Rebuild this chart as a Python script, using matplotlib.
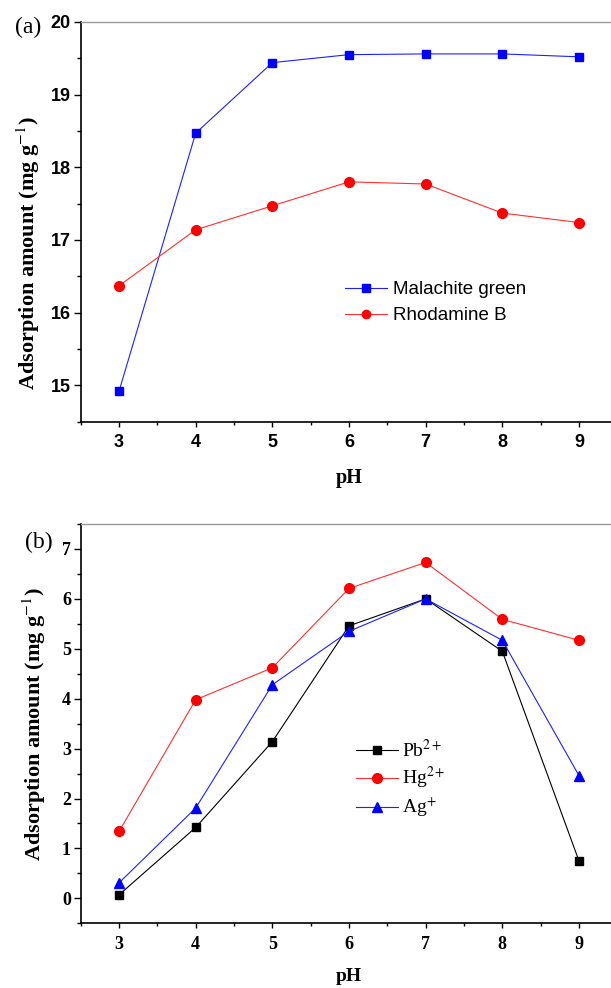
import matplotlib
matplotlib.use("Agg")
import matplotlib.pyplot as plt
from matplotlib.ticker import MultipleLocator

# data
ph = [3, 4, 5, 6, 7, 8, 9]
malachite_green = [14.92, 18.47, 19.44, 19.55, 19.56, 19.56, 19.52]
rhodamine_b = [16.37, 17.14, 17.47, 17.80, 17.77, 17.37, 17.24]
pb = [0.07, 1.42, 3.14, 5.46, 6.00, 4.95, 0.75]
hg = [1.34, 3.98, 4.62, 6.21, 6.73, 5.59, 5.17]
ag = [0.31, 1.81, 4.28, 5.35, 6.00, 5.17, 2.46]

plt.rcParams['mathtext.fontset'] = 'stix'
SERIF = 'Liberation Serif'
SANS = 'Liberation Sans'

fig = plt.figure(figsize=(6.11, 9.88), dpi=100)
# axes run past the right edge of the figure, as in the cropped original
ax1 = fig.add_axes([0.1321, 0.5732, 0.8782, 0.4046])
ax2 = fig.add_axes([0.1321, 0.0655, 0.8782, 0.4041])


def style_axes(ax, tick_family, tick_size, xpad):
    ax.set_xlim(2.5, 9.5)
    ax.xaxis.set_major_locator(MultipleLocator(1))
    ax.xaxis.set_minor_locator(MultipleLocator(0.5))
    ax.yaxis.set_major_locator(MultipleLocator(1))
    ax.yaxis.set_minor_locator(MultipleLocator(0.5))
    ax.spines['right'].set_visible(False)
    ax.spines['top'].set_color('#9a9a9a')
    ax.spines['top'].set_linewidth(1.0)
    for s in ('left', 'bottom'):
        ax.spines[s].set_linewidth(1.2)
    ax.tick_params(axis='x', which='major', direction='out', length=3.6, width=1.0, pad=xpad)
    ax.tick_params(axis='x', which='minor', direction='out', length=2.0, width=1.0)
    ax.tick_params(axis='y', which='major', direction='out', length=5.0, width=1.0, pad=2)
    ax.tick_params(axis='y', which='minor', direction='out', length=3.0, width=1.0)
    for lab in ax.get_xticklabels() + ax.get_yticklabels():
        lab.set_family(tick_family)
        lab.set_fontweight('bold')
        lab.set_fontsize(tick_size)


# (a) dyes
ax1.plot(ph, malachite_green, color='#2020ff', lw=0.8, marker='s', ms=6.2,
         mfc='#0000ff', mec='#0000ff', label='Malachite green')
ax1.plot(ph, rhodamine_b, color='#ff3030', lw=0.8, marker='o', ms=7,
         mfc='#ff0000', mec='#ff0000', label='Rhodamine B')
ax1.set_ylim(14.5, 20)
style_axes(ax1, SANS, 13, 5)
ax1.legend(loc='upper left', bbox_to_anchor=(0.492, 0.352), frameon=False,
           prop={'family': SANS, 'size': 13.5}, handlelength=2.24, markerscale=0.85,
           handletextpad=0.33, labelspacing=0.48, borderpad=0, borderaxespad=0)
ax1.set_xlabel('pH', family=SERIF, fontweight='bold', fontsize=14.5)
ax1.xaxis.set_label_coords(0.5, -0.116)
ax1.text(-0.097, 0.421, 'Adsorption amount (mg g$^{-1}$)', transform=ax1.transAxes,
         rotation=90, ha='center', va='center', family=SERIF, fontweight='bold', fontsize=16)
ax1.text(-0.098, 0.985, '(a)', transform=ax1.transAxes, ha='center', va='center',
         family=SERIF, fontsize=17)

# (b) metal ions
ax2.plot(ph, pb, color='black', lw=0.8, marker='s', ms=6, mfc='black', mec='black',
         label='Pb$^{2+}$')
ax2.plot(ph, hg, color='#ff3030', lw=0.8, marker='o', ms=7, mfc='#ff0000', mec='#ff0000',
         label='Hg$^{2+}$')
ax2.plot(ph, ag, color='#2020ff', lw=0.8, marker='^', ms=7.5, mfc='#0000ff', mec='#0000ff',
         label='Ag$^{+}$')
ax2.set_ylim(-0.5, 7.5)
style_axes(ax2, SERIF, 13, 5.5)
ax2.legend(loc='upper left', bbox_to_anchor=(0.5125, 0.4616), frameon=False,
           prop={'family': SERIF, 'size': 14}, handlelength=2.18,
           handletextpad=0.19, labelspacing=0.22, borderpad=0, borderaxespad=0)
ax2.set_xlabel('pH', family=SERIF, fontweight='bold', fontsize=14)
ax2.xaxis.set_label_coords(0.5, -0.113)
ax2.text(-0.087, 0.5, 'Adsorption amount (mg g$^{-1}$)', transform=ax2.transAxes,
         rotation=90, ha='center', va='center', family=SERIF, fontweight='bold', fontsize=16)
ax2.text(-0.079, 0.953, '(b)', transform=ax2.transAxes, ha='center', va='center',
         family=SERIF, fontsize=17)

fig.savefig('out.png', dpi=100)
